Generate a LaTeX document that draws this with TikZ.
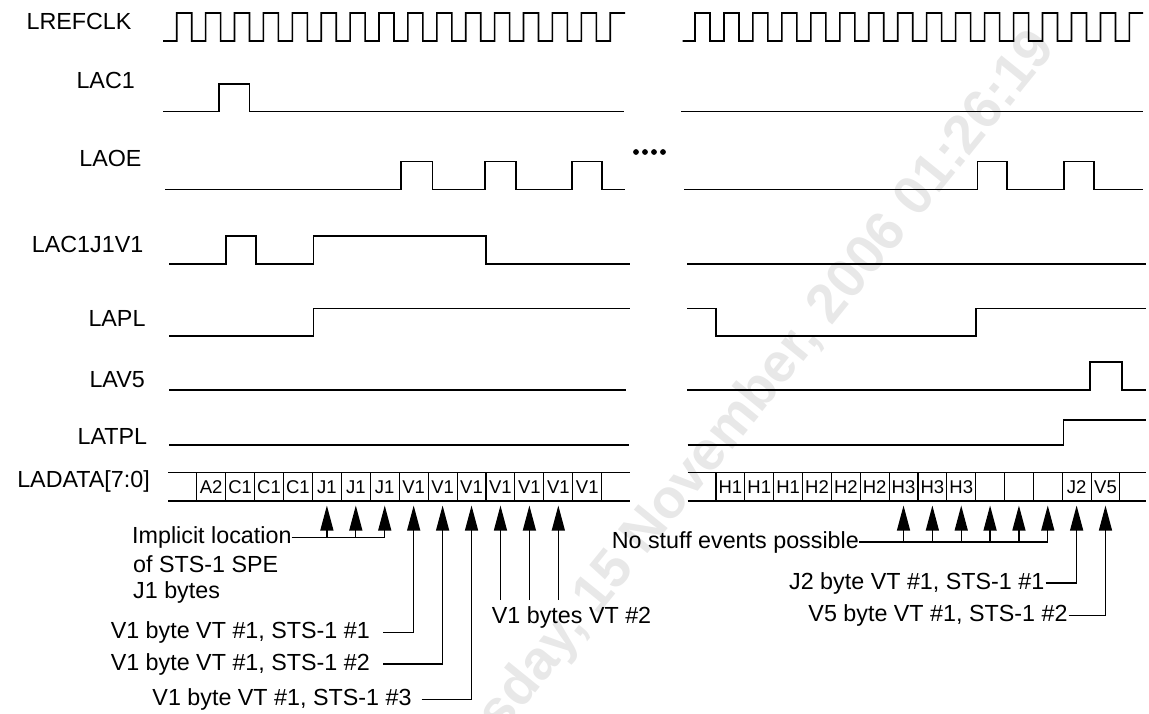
\documentclass[tikz,border=0pt]{standalone}
\usepackage{fontspec}
\setmainfont{Liberation Sans}
\usetikzlibrary{arrows.meta,calc}
\begin{document}
\begin{tikzpicture}[x=1pt,y=-1pt,
  sig/.style={line width=1.6pt, line join=miter},
  bus/.style={line width=1.2pt},
  lbl/.style={inner sep=0pt, font=\fontsize{23.3}{27}\selectfont},
  ann/.style={inner sep=0pt, font=\fontsize{23.3}{27}\selectfont},
  cell/.style={draw, line width=1.1pt, minimum height=28.3pt, inner sep=0pt, font=\fontsize{18.5}{20}\selectfont},
  lcell/.style={cell, minimum width=28.93pt},
  rcell/.style={cell, minimum width=28.85pt},
  arr/.style={line width=1.3pt, -{Triangle[length=25pt,width=13pt]}},
  lead/.style={line width=1.3pt},
  wm/.style={rotate=51, text=black!9, font=\fontsize{55}{60}\selectfont\bfseries, inner sep=0pt}
]
\useasboundingbox (0,0) rectangle (1149,714);
% watermark
\begin{scope}
\clip (0,0) rectangle (1149,714);
\node[wm] (watermark) at (712,452) {Wednesday, 15 November, 2006 01:26:19};
\end{scope}

% signal labels
\node[lbl, anchor=base east] (nclk) at (131.7,30) {LREFCLK};
\node[lbl, anchor=base east] (nlac1) at (135,88.3) {LAC1};
\node[lbl, anchor=base east] (nlaoe) at (141.7,166.7) {LAOE};
\node[lbl, anchor=base west] (nlacj) at (31.7,253) {LAC1J1V1};
\node[lbl, anchor=base east] (nlapl) at (145.7,326) {LAPL};
\node[lbl, anchor=base east] (nlav5) at (145,387.7) {LAV5};
\node[lbl, anchor=base east] (nlatpl) at (147.3,444) {LATPL};
\node[lbl, anchor=base east] (nladata) at (150,487.5) {LADATA[7:0]};

% LREFCLK
\draw[sig] (163,41) -- (176.7,41)
  \foreach \k in {0,...,14}{ -- ({176.7+28.9*\k},41) -- ({176.7+28.9*\k},13) -- ({191.7+28.9*\k},13) -- ({191.7+28.9*\k},41) -- ({176.7+28.9*(\k+1)},41)}
  -- (610.2,13) -- (625,13);
\draw[sig] (682.7,41) -- (695,41)
  \foreach \k in {0,...,14}{ -- ({695+28.96*\k},41) -- ({695+28.96*\k},13) -- ({710+28.96*\k},13) -- ({710+28.96*\k},41) -- ({695+28.96*(\k+1)},41)}
  -- (1129.4,13) -- (1143,13);

% LAC1
\draw[sig] (163.3,111.7) -- (219,111.7) -- (219,84) -- (249.3,84) -- (249.3,111.7) -- (624,111.7);
\draw[sig] (681.2,111.7) -- (1142.7,111.7);

% LAOE
\draw[sig] (165,189.5) -- (401,189.5) -- (401,161.7) -- (432.3,161.7) -- (432.3,189.5) -- (485,189.5) -- (485,161.7) -- (516,161.7) -- (516,189.5) -- (571.7,189.5) -- (571.7,161.7) -- (601.7,161.7) -- (601.7,189.5) -- (625,189.5);
\draw[sig] (684,189.5) -- (977.5,189.5) -- (977.5,161.7) -- (1007.2,161.7) -- (1007.2,189.5) -- (1064,189.5) -- (1064,161.7) -- (1093.7,161.7) -- (1093.7,189.5) -- (1142.7,189.5);

% dots
\foreach \dx in {636,645,654,663}{\fill (\dx,152) circle[radius=2.9pt];}

% LAC1J1V1
\draw[sig] (169.3,264.3) -- (225.7,264.3) -- (225.7,236) -- (255.7,236) -- (255.7,264.3) -- (313.3,264.3) -- (313.3,236) -- (485.7,236) -- (485.7,264.3) -- (630,264.3);
\draw[sig] (687.3,264.3) -- (1146,264.3);

% LAPL
\draw[sig] (169.3,336) -- (313.3,336) -- (313.3,308.3) -- (630,308.3);
\draw[sig] (687.3,308.3) -- (715.7,308.3) -- (715.7,336) -- (976,336) -- (976,308.3) -- (1146,308.3);

% LAV5
\draw[sig] (169.3,390) -- (625.7,390);
\draw[sig] (687.3,390) -- (1090,390) -- (1090,362) -- (1121.7,362) -- (1121.7,390) -- (1146,390);

% LATPL
\draw[sig] (169.4,445) -- (629,445);
\draw[sig] (687.7,445) -- (1063.3,445) -- (1063.3,420) -- (1146,420);

% LADATA bus
\draw[bus] (168.3,472.7) -- (630,472.7) (168.3,501) -- (630,501);
\draw[bus] (687.7,472.7) -- (1146,472.7) (687.7,501) -- (1146,501);
\foreach \t [count=\i from 0] in {A2,C1,C1,C1,J1,J1,J1,V1,V1,V1,V1,V1,V1,V1}
  \node[lcell] (L\i) at ({196.7+28.93*(\i+0.5)},486.85) {\t};
\foreach \t [count=\i from 0] in {H1,H1,H1,H2,H2,H2,H3,H3,H3,{},{},{},J2,V5}
  \node[rcell] (R\i) at ({716+28.85*(\i+0.5)},486.85) {\t};

% left annotations
\node[ann, anchor=east] (imp) at (291.7,537.3) {Implicit location};
\node[ann, anchor=base west] (imp2) at (133,572) {of STS-1 SPE};
\node[ann, anchor=base west] (imp3) at (133,598) {J1 bytes};
\draw[lead] (imp.east) -- (L6.south |- imp.east);
\foreach \i in {4,5,6}
  \draw[arr] (L\i.south |- imp.east) -- ([yshift=-4pt]L\i.south);

\node[ann, anchor=east] (va) at (370,632.3) {V1 byte VT \#1, STS-1 \#1};
\node[ann, anchor=east] (vb) at (370,664) {V1 byte VT \#1, STS-1 \#2};
\node[ann, anchor=east] (vc) at (411.7,699.3) {V1 byte VT \#1, STS-1 \#3};
\draw[arr] ([xshift=13pt]va.east) -| ([yshift=-4pt]L7.south);
\draw[arr] ([xshift=13pt]vb.east) -| ([yshift=-4pt]L8.south);
\draw[arr] ([xshift=10pt]vc.east) -| ([yshift=-4pt]L9.south);

\node[ann, anchor=base west] (v2) at (491.7,623) {V1 bytes VT \#2};
\coordinate (v2top) at (0,600);
\foreach \i in {10,11,12}
  \draw[arr] (L\i.south |- v2top) -- ([yshift=-4pt]L\i.south);

% right annotations
\node[ann, anchor=east] (ns) at (859,542) {No stuff events possible};
\draw[lead] (ns.east) -- (R11.south |- ns.east);
\foreach \i in {6,...,11}
  \draw[arr] (R\i.south |- ns.east) -- ([yshift=-4pt]R\i.south);

\node[ann, anchor=east] (j2) at (1044.5,583) {J2 byte VT \#1, STS-1 \#1};
\node[ann, anchor=east] (v5) at (1067.7,615.8) {V5 byte VT \#1, STS-1 \#2};
\draw[arr] ([xshift=1pt]j2.east) -| ([yshift=-4pt]R12.south);
\draw[arr] ([xshift=1pt]v5.east) -| ([yshift=-4pt]R13.south);
\end{tikzpicture}
\end{document}
